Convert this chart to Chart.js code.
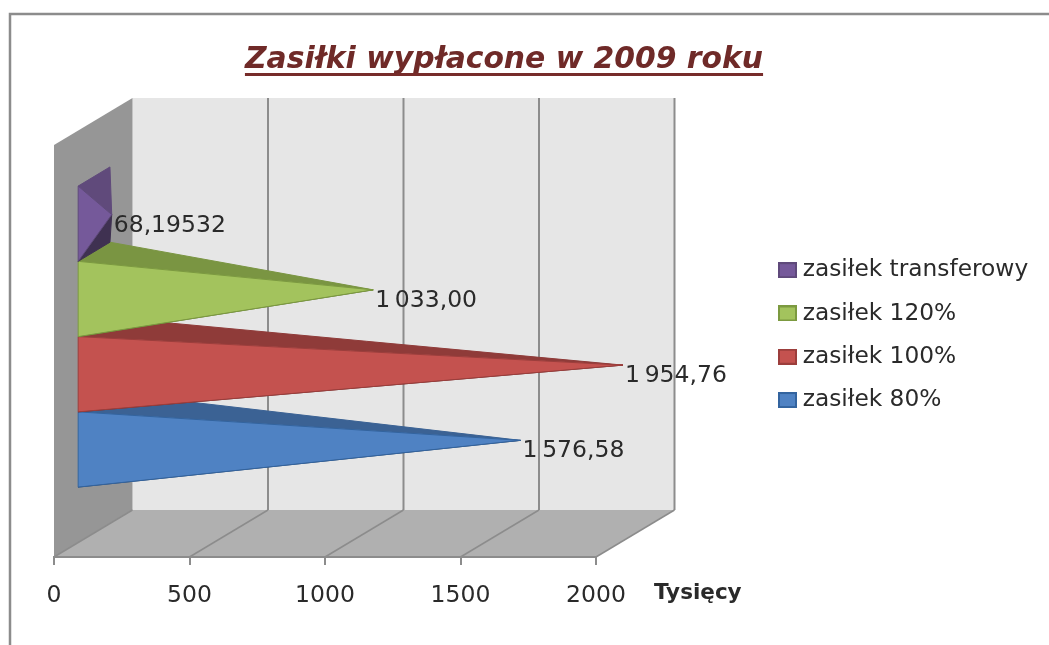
<!DOCTYPE html>
<html>
<head>
<meta charset="utf-8">
<style>html,body{margin:0;padding:0;background:#fff}canvas{display:block}</style>
<script src="https://cdn.jsdelivr.net/npm/chart.js@4/dist/chart.umd.min.js"></script>
</head>
<body>
<canvas id="c" width="1049" height="645"></canvas>
<script>
const categories = [''];
const seriesNames = ['zasiłek transferowy', 'zasiłek 120%', 'zasiłek 100%', 'zasiłek 80%'];
const seriesValues = [68.19532, 1033.00, 1954.76, 1576.58];
const valueLabels = ['68,19532', '1\u2009033,00', '1\u2009954,76', '1\u2009576,58'];
const tickStep = 500;
const axisMax = 2000;
const titleText = 'Zasiłki wypłacone w 2009 roku';
const unitText = 'Tysięcy';

const frontColors = ['#75599a', '#a3c35d', '#c4524f', '#4f82c3'];
const topColors = ['#604a7b', '#7a9542', '#8f3b39', '#3b6294'];
const bottomColors = ['#3f3151', '#5f7530', '#6e2c2a', '#2c4a70'];
const edgeColors = ['#5f4a7b', '#7c9a40', '#9c3e3c', '#33649f'];

const FONT = '"DejaVu Sans", sans-serif';
const TEXT = '#2a2a2a';
const GRID = '#8c8c8c';
const DX = 78.5, DY = 47;

function swatch(fill, stroke) {
  const s = document.createElement('canvas');
  s.width = 19; s.height = 16;
  const g = s.getContext('2d');
  g.fillStyle = fill; g.fillRect(0, 0, 19, 16);
  g.strokeStyle = stroke; g.lineWidth = 2; g.strokeRect(1, 1, 17, 14);
  return s;
}
function poly(ctx, pts, fill, stroke) {
  ctx.beginPath();
  pts.forEach((p, i) => i ? ctx.lineTo(p[0], p[1]) : ctx.moveTo(p[0], p[1]));
  ctx.closePath();
  ctx.fillStyle = fill; ctx.fill();
  if (stroke) { ctx.strokeStyle = stroke; ctx.lineWidth = 1; ctx.stroke(); }
}

const scene = {
  id: 'scene',
  afterLayout(chart) {
    const t = chart.titleBlock; t.left = 0; t.right = 1008;
    const l = chart.legend; l.left = 764; l.right = 1049; l.top = 238.5; l.bottom = 640;
  },
  beforeDraw(chart) {
    const { ctx, chartArea: a, scales: { x } } = chart;
    ctx.save();
    ctx.strokeStyle = '#8c8c8c'; ctx.lineWidth = 2.5;
    ctx.beginPath(); ctx.moveTo(10, 645); ctx.lineTo(10, 14); ctx.lineTo(1049, 14); ctx.stroke();
    const L = a.left, R = a.right, T = a.top, B = a.bottom;
    poly(ctx, [[L + DX, T - DY], [R + DX, T - DY], [R + DX, B - DY], [L + DX, B - DY]], '#e6e6e6');
    poly(ctx, [[L, T], [L + DX, T - DY], [L + DX, B - DY], [L, B]], '#969696');
    poly(ctx, [[L, B], [L + DX, B - DY], [R + DX, B - DY], [R, B]], '#b0b0b0');
    ctx.strokeStyle = GRID;
    x.ticks.forEach((tk, i) => {
      const px = x.getPixelForValue(tk.value);
      ctx.lineWidth = 1.5;
      ctx.beginPath(); ctx.moveTo(px, B); ctx.lineTo(px + DX, B - DY); ctx.stroke();
      if (i > 0) {
        ctx.lineWidth = 2;
        ctx.beginPath(); ctx.moveTo(px + DX, B - DY); ctx.lineTo(px + DX, T - DY); ctx.stroke();
      }
    });
    ctx.restore();
  },
  beforeDatasetDraw() { return false; },
  afterDatasetsDraw(chart) {
    const ctx = chart.ctx;
    ctx.save();
    for (let i = seriesValues.length - 1; i >= 0; i--) {
      const el = chart.getDatasetMeta(i).data[0];
      const base = el.base, top = el.y - el.height / 2, bot = el.y + el.height / 2;
      const fx = base + DX * 0.295, fy = -DY * 0.306;
      const bx = base + DX * 0.7, by = -DY * 0.713;
      const tip = [el.x + DX * 0.5, el.y - DY * 0.5];
      poly(ctx, [[fx, bot + fy], [bx, bot + by], tip], bottomColors[i], bottomColors[i]);
      poly(ctx, [[fx, top + fy], [bx, top + by], tip], topColors[i], topColors[i]);
      poly(ctx, [[fx, top + fy], [fx, bot + fy], tip], frontColors[i], edgeColors[i]);
    }
    ctx.fillStyle = TEXT;
    ctx.font = '23.5px ' + FONT;
    ctx.textBaseline = 'middle';
    ctx.textAlign = 'left';
    seriesValues.forEach((v, i) => {
      const el = chart.getDatasetMeta(i).data[0];
      ctx.fillText(valueLabels[i], el.x + DX * 0.5 + 2, el.y - DY * 0.5 + 11);
    });
    ctx.restore();
  },
  afterDraw(chart) {
    const ctx = chart.ctx;
    ctx.save();
    const o = chart.options.plugins.title.font;
    ctx.font = 'italic bold ' + o.size + 'px ' + FONT;
    const w = ctx.measureText(titleText).width;
    ctx.fillStyle = '#772c2a';
    ctx.fillRect(504 - w / 2, 73, w, 3);
    ctx.fillStyle = TEXT;
    ctx.font = 'bold 21.5px ' + FONT;
    ctx.textBaseline = 'middle';
    ctx.textAlign = 'left';
    ctx.fillText(unitText, 654, 593);
    ctx.restore();
  }
};

new Chart(document.getElementById('c'), {
  type: 'bar',
  data: {
    labels: categories,
    datasets: seriesNames.map((n, i) => ({
      label: n,
      data: [seriesValues[i]],
      backgroundColor: frontColors[i],
      borderColor: edgeColors[i]
    }))
  },
  options: {
    indexAxis: 'y',
    responsive: false,
    animation: false,
    layout: { padding: { left: 54, right: 453, top: 0, bottom: 0 } },
    categoryPercentage: 0.7306,
    barPercentage: 1,
    plugins: {
      tooltip: { enabled: false },
      title: {
        display: true,
        text: titleText,
        color: '#6f2a28',
        font: { family: FONT, size: 29.8, weight: 'bold', style: 'italic', lineHeight: 1.2 },
        padding: { top: 42, bottom: 67.2 }
      },
      legend: {
        position: 'chartArea',
        align: 'start',
        labels: {
          usePointStyle: true,
          pointStyleWidth: 7,
          color: TEXT,
          font: { family: FONT, size: 23.3 },
          padding: 20,
          generateLabels: chart => chart.data.datasets.map((d, i) => ({
            text: d.label,
            datasetIndex: i,
            fillStyle: d.backgroundColor,
            strokeStyle: d.borderColor,
            lineWidth: 0,
            fontColor: TEXT,
            pointStyle: swatch(d.backgroundColor, d.borderColor)
          }))
        }
      }
    },
    scales: {
      x: {
        type: 'linear',
        min: 0,
        max: axisMax,
        afterFit: s => { s.height = 88; },
        grid: { drawOnChartArea: false, drawTicks: true, tickLength: 8, color: GRID, lineWidth: 2 },
        border: { color: GRID, width: 2 },
        ticks: {
          stepSize: tickStep,
          maxRotation: 0,
          padding: 17,
          color: TEXT,
          font: { family: FONT, size: 23.5 },
          callback: v => String(v)
        }
      },
      y: { type: 'category', display: false }
    }
  },
  plugins: [scene]
});
</script>
</body>
</html>
